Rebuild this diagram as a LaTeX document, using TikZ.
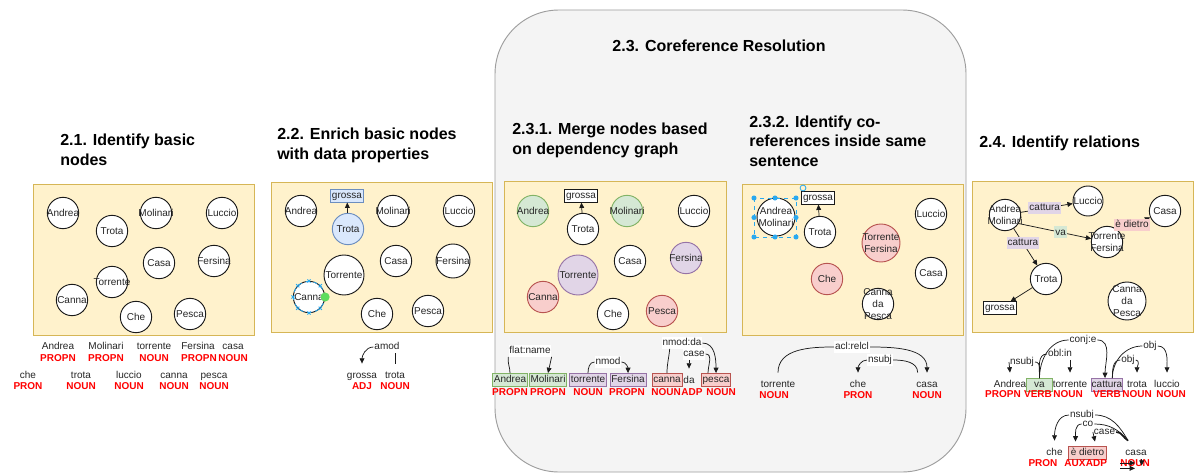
\documentclass[tikz,border=0pt]{standalone}
\usepackage{fontspec}
\setmainfont{Liberation Sans}
\usetikzlibrary{arrows.meta,calc}

\definecolor{yelF}{HTML}{FFF2CC}
\definecolor{yelB}{HTML}{D6B656}
\definecolor{grnF}{HTML}{D5E8D4}
\definecolor{grnB}{HTML}{82B366}
\definecolor{purF}{HTML}{E1D5E7}
\definecolor{purB}{HTML}{9673A6}
\definecolor{redF}{HTML}{F8CECC}
\definecolor{redB}{HTML}{B85450}
\definecolor{bluF}{HTML}{DAE8FC}
\definecolor{bluB}{HTML}{6C8EBF}
\definecolor{grpF}{HTML}{F4F4F4}
\definecolor{grpB}{HTML}{9E9E9E}
\definecolor{txt}{HTML}{262626}
\definecolor{posred}{HTML}{FF0000}
\definecolor{selc}{HTML}{29A9F0}
\definecolor{hotc}{HTML}{5EDC5E}
\definecolor{ink}{HTML}{1A1A1A}

\newcommand\smtxt{\fontsize{7.5}{9}\selectfont}
\newcommand\ttlfont{\fontsize{12}{15}\selectfont\bfseries}

\tikzset{
  ctext/.style={font=\smtxt, text=txt, align=center, inner sep=0pt},
  ent/.style={circle, draw=ink, line width=0.7pt, fill=white, minimum size=23.5pt,
    inner sep=0pt, label={[ctext]center:{#1}}},
  panel/.style={draw=yelB, fill=yelF, line width=0.7pt},
  ttl/.style={font=\ttlfont, text=black, anchor=base west, inner sep=0pt},
  wd/.style={font=\smtxt, text=txt, inner xsep=0.5pt, inner ysep=5.5pt,
    text height=5.6pt, text depth=1.6pt},
  bx/.style={font=\smtxt, text=txt, inner xsep=1pt, inner ysep=1.3pt,
    text height=5.6pt, text depth=1.6pt, line width=0.6pt},
  gbox/.style={bx, draw=grnB, fill=grnF},
  pbox/.style={bx, draw=purB, fill=purF},
  rbox/.style={bx, draw=redB, fill=redF},
  postag/.style={font=\smtxt\bfseries, text=posred, inner sep=0pt},
  rel/.style={font=\smtxt, text=txt, fill=white, inner sep=0.6pt,
    text height=5.6pt, text depth=1.6pt},
  elab/.style={font=\smtxt, text=txt, inner sep=0.8pt, text height=5.6pt, text depth=1.6pt},
  attr/.style={font=\smtxt, text=txt, draw=ink, line width=0.7pt, fill=white,
    inner xsep=0.8pt, inner ysep=1pt, text height=5.6pt, text depth=1.6pt},
  arr/.style={-{Triangle[length=4pt,width=3.6pt]}, line width=0.55pt, draw=ink},
  ln/.style={line width=0.55pt, draw=ink},
}

\begin{document}
\begin{tikzpicture}[x=0.75pt,y=-0.75pt]
\useasboundingbox (0,0) rectangle (1194,474);
\fill[white] (0,0) rectangle (1194,474);

% ---------- coreference group ----------
\draw[draw=grpB, fill=grpF, line width=0.7pt, rounded corners=48pt] (495,10) rectangle (966,472);
\node[ttl, anchor=base] (t23) at (719,51.7) {2.3. Coreference Resolution};

% ---------- 2.1 basic nodes ----------
\node[ttl] (t21a) at (60,145.7) {2.1. Identify basic};
\node[ttl] (t21b) at (60,165.7) {nodes};
\draw[panel] (33,184) rectangle (254,335);
\node[ent=Andrea]   (a1)  at (63,213) {};
\node[ent=Trota]    (tr1) at (112,231) {};
\node[ent=Molinari] (m1)  at (156,213) {};
\node[ent=Luccio]   (l1)  at (222,213) {};
\node[ent=Casa]     (cs1) at (159,263) {};
\node[ent=Fersina]  (f1)  at (214,261) {};
\node[ent=Torrente] (to1) at (112,282) {};
\node[ent=Canna]    (cn1) at (72,300) {};
\node[ent=Che]      (ch1) at (136,317) {};
\node[ent=Pesca]    (p1)  at (190,314) {};

\node[wd] (w1a) at (58,347)  {Andrea};   \node[postag] (q1a) at (58,358)  {PROPN};
\node[wd] (w1b) at (106,347) {Molinari}; \node[postag] (q1b) at (106,358) {PROPN};
\node[wd] (w1c) at (154,347) {torrente}; \node[postag] (q1c) at (154,358) {NOUN};
\node[wd] (w1d) at (198,347) {Fersina};  \node[postag] (q1d) at (199,358) {PROPN};
\node[wd] (w1e) at (233,347) {casa};     \node[postag] (q1e) at (233,358) {NOUN};
\node[wd] (w1f) at (28,376)  {che};      \node[postag] (q1f) at (28,386)  {PRON};
\node[wd] (w1g) at (81,376)  {trota};    \node[postag] (q1g) at (81,386)  {NOUN};
\node[wd] (w1h) at (129,376) {luccio};   \node[postag] (q1h) at (129,386) {NOUN};
\node[wd] (w1i) at (174,376) {canna};    \node[postag] (q1i) at (174,386) {NOUN};
\node[wd] (w1j) at (214,376) {pesca};    \node[postag] (q1j) at (214,386) {NOUN};

% ---------- 2.2 data properties ----------
\node[ttl] (t22a) at (277,139.7) {2.2. Enrich basic nodes};
\node[ttl] (t22b) at (277,159.7) {with data properties};
\draw[panel] (271,182) rectangle (492,332);
\node[ent=Andrea]   (a2)  at (301,211) {};
\node[attr, fill=bluF, draw=bluB] (g2) at (347,196) {grossa};
\node[ent=Trota, fill=bluF, draw=bluB] (tr2) at (348,229) {};
\draw[arr] (tr2) -- (g2);
\node[ent=Molinari] (m2)  at (393,211) {};
\node[ent=Luccio]   (l2)  at (459,211) {};
\node[ent=Casa]     (cs2) at (396,261) {};
\node[ent=Fersina, minimum size=25.5pt] (f2) at (453,261) {};
\node[ent=Torrente, minimum size=30pt] (to2) at (344,275) {};
\node[ent=Canna]    (cn2) at (309,297) {};
\node[ent=Che]      (ch2) at (377,314) {};
\node[ent=Pesca]    (p2)  at (428,311) {};
% selection marks on Canna
\node[circle, draw=selc, dashed, line width=0.6pt, minimum size=23.5pt, inner sep=0pt] (cn2s) at (cn2) {};
\foreach \a in {45,90,135,180,225,270,315}
  \draw[selc, line width=0.6pt] ($(cn2)+(\a:16)$) +(-1.6,-1.6) -- +(1.6,1.6) +(-1.6,1.6) -- +(1.6,-1.6);
\fill[hotc] (cn2.east) circle (3.4pt);

\node[wd] (w2a) at (362,376) {grossa}; \node[postag] (q2a) at (362,386) {ADJ};
\node[wd] (w2b) at (395,376) {trota};  \node[postag] (q2b) at (395,386) {NOUN};
\node[rel] (r2a) at (387,347) {amod};
\draw[ln] (w2b.north) -- (r2a.south -| w2b.north);
\draw[arr] (r2a.west) to[out=180,in=90] (w2a.north);

% ---------- 2.3.1 merge nodes ----------
\node[ttl] (t31a) at (512,134.7) {2.3.1. Merge nodes based};
\node[ttl] (t31b) at (512,154.7) {on dependency graph};
\draw[panel] (504,181) rectangle (726,332);
\node[ent=Andrea, fill=grnF, draw=grnB] (a3) at (533,211) {};
\node[attr] (g3) at (581,196) {grossa};
\node[ent=Trota] (tr3) at (583,229) {};
\draw[arr] (tr3) -- (g3);
\node[ent=Molinari, fill=grnF, draw=grnB] (m3) at (627,211) {};
\node[ent=Luccio] (l3) at (694,211) {};
\node[ent=Casa] (cs3) at (630,261) {};
\node[ent=Fersina, fill=purF, draw=purB] (f3) at (686,258) {};
\node[ent=Torrente, fill=purF, draw=purB, minimum size=30pt] (to3) at (578,275) {};
\node[ent=Canna, fill=redF, draw=redB] (cn3) at (543,297) {};
\node[ent=Che] (ch3) at (613,314) {};
\node[ent=Pesca, fill=redF, draw=redB] (p3) at (662,311) {};

\node[gbox] (k3a) at (510,380) {Andrea};
\node[gbox] (k3b) at (548,380) {Molinari};
\node[pbox] (k3c) at (588,380) {torrente};
\node[pbox] (k3d) at (628,380) {Fersina};
\node[rbox] (k3e) at (667,380) {canna};
\node[wd]   (k3f) at (689,381) {da};
\node[rbox] (k3g) at (716,380) {pesca};
\node[postag] (q3a) at (510,392) {PROPN};
\node[postag] (q3b) at (548,392) {PROPN};
\node[postag] (q3c) at (588,392) {NOUN};
\node[postag] (q3d) at (627,392) {PROPN};
\node[postag] (q3e) at (666,392) {NOUN};
\node[postag] (q3f) at (692,392) {ADP};
\node[postag] (q3g) at (721,392) {NOUN};
\node[rel] (r3a) at (530,351) {flat:name};
\node[rel] (r3b) at (608,362) {nmod};
\node[rel] (r3c) at (682,343) {nmod:da};
\node[rel] (r3d) at (694,354) {case};
\draw[ln] (k3a.north) to[out=90,in=-100] (r3a.south west);
\draw[arr] (r3a.south east) -- (k3b.north);
\draw[ln] (k3c.north) to[out=90,in=180] (r3b.west);
\draw[arr] (r3b.east) to[out=0,in=90] (k3d.north);
\draw[ln] (k3e.north) to[out=90,in=-95] ($(r3c.south west)!0.2!(r3c.south east)$);
\draw[arr] (r3c.east) to[out=0,in=90] (k3g.north);
\draw[ln] ([xshift=-6pt]k3g.north) to[out=90,in=0] (r3d.east);
\draw[arr] (r3d.south -| k3f.north) -- (k3f.north);

% ---------- 2.3.2 co-references ----------
\node[ttl] (t32a) at (749,127.7) {2.3.2. Identify co-};
\node[ttl] (t32b) at (749,146.7) {references inside same};
\node[ttl] (t32c) at (749,166.7) {sentence};
\draw[panel] (742,184) rectangle (963,335);
\node[ent={Andrea\\Molinari}, minimum size=28.5pt] (am5) at (776,217) {};
\node[attr] (g5) at (818,198) {grossa};
\node[ent=Trota] (tr5) at (820,232) {};
\draw[arr] (tr5) -- (g5);
\node[ent={Torrente\\Fersina}, fill=redF, draw=redB, minimum size=28.5pt] (tf5) at (881,243) {};
\node[ent=Luccio] (l5) at (931,214) {};
\node[ent=Casa] (cs5) at (931,273) {};
\node[ent=Che, fill=redF, draw=redB] (ch5) at (827,279) {};
\node[ent={Canna\\da\\Pesca}] (cdp5) at (878,304) {};
% selection frame on Andrea Molinari
\draw[selc, dashed, line width=0.6pt] (754,198) rectangle (796,237);
\foreach \x/\y in {754/198,775/198,796/198,754/217.5,796/217.5,754/237,775/237,796/237}
  \fill[selc] (\x,\y) circle (1.9pt);
\draw[selc, line width=0.6pt] (803,188) circle (2.2pt);

\node[wd] (k5a) at (778,385) {torrente};
\node[wd] (k5b) at (858,385) {che};
\node[wd] (k5c) at (927,385) {casa};
\node[postag] (q5a) at (774,395) {NOUN};
\node[postag] (q5b) at (858,395) {PRON};
\node[postag] (q5c) at (927,395) {NOUN};
\node[rel] (r5a) at (852,347) {acl:relcl};
\node[rel] (r5b) at (880,360) {nsubj};
\draw[ln] (k5a.north) to[out=90,in=180] (r5a.west);
\draw[arr] (r5a.east) to[out=0,in=90] (k5c.north);
\draw[ln] ([xshift=-7pt]k5c.north) to[out=90,in=0] (r5b.east);
\draw[arr] (r5b.west) to[out=180,in=90] (k5b.north);

% ---------- 2.4 relations ----------
\node[ttl] (t24) at (979,147.7) {2.4. Identify relations};
\draw[panel] (972,181) rectangle (1193,332);
\node[ent={Andrea\\Molinari}] (am4) at (1005,215) {};
\node[ent=Luccio, minimum size=22.5pt] (l4) at (1088,201) {};
\node[ent=Casa] (cs4) at (1165,211) {};
\node[ent={Torrente\\Fersina}] (tf4) at (1107,242) {};
\node[ent=Trota] (tr4) at (1046,279) {};
\node[attr] (g4) at (1000,308) {grossa};
\node[ent={Canna\\da\\Pesca}, minimum size=28.5pt] (cdp4) at (1127,301) {};
\draw[arr] (am4) -- node[elab, fill=purF, pos=0.46] (e4a) {cattura} (l4);
\draw[arr] (am4.-32) -- node[elab, fill=grnF, pos=0.58] (e4b) {va} (tf4);
\draw[arr] (am4) -- node[elab, fill=purF, pos=0.39] (e4c) {cattura} (tr4);
\draw[arr] (tf4.43) -- node[elab, fill=redF, pos=0.42] (e4d) {è dietro} (cs4);
\draw[arr] (tr4) -- (g4);

% first sentence
\node[wd]   (k4a) at (1010,385) {Andrea};
\node[gbox, minimum width=20pt] (k4b) at (1039.5,385) {va};
\node[wd]   (k4c) at (1070,385) {torrente};
\node[pbox, inner xsep=0pt] (k4d) at (1107,385) {cattura};
\node[wd]   (k4e) at (1137,385) {trota};
\node[wd]   (k4f) at (1167,385) {luccio};
\node[postag] (q4a) at (1003,394) {PROPN};
\node[postag] (q4b) at (1038,394) {VERB};
\node[postag] (q4c) at (1068,394) {NOUN};
\node[postag] (q4d) at (1107,394) {VERB};
\node[postag] (q4e) at (1137,394) {NOUN};
\node[postag] (q4f) at (1171,394) {NOUN};
\node[rel] (r4a) at (1083,340) {conj:e};
\node[rel] (r4b) at (1022,362) {nsubj};
\node[rel] (r4c) at (1060,354) {obl:in};
\node[rel] (r4d) at (1150,346) {obj};
\node[rel] (r4e) at (1128,360) {obj};
\draw[ln] (k4b.north) to[out=90,in=180] (r4a.west);
\draw[arr] (r4a.east) to[out=0,in=90] ([xshift=-1.5pt]k4d.north);
\draw[ln] (k4b.north) to[out=95,in=0] (r4b.east);
\draw[arr] (r4b.west) -- (k4a.north);
\draw[ln] (k4b.north) to[out=90,in=180] (r4c.west);
\draw[arr] (r4c.south -| k4c.north) -- (k4c.north);
\draw[ln] ([xshift=4pt]k4d.north) to[out=90,in=180] (r4d.west);
\draw[arr] (r4d.east) to[out=0,in=90] (k4f.north);
\draw[ln] ([xshift=4pt]k4d.north) to[out=90,in=180] (r4e.west);
\draw[arr] (r4e.east) to[out=0,in=90] (k4e.north);

% second sentence
\node[wd]   (k6a) at (1054.5,453) {che};
\node[rbox, minimum width=29pt] (k6b) at (1087.5,452.5) {è dietro};
\node[wd]   (k6c) at (1136,453) {casa};
\node[postag] (q6a) at (1043,463) {PRON};
\node[postag] (q6b) at (1075,463) {AUX};
\node[postag] (q6c) at (1096.5,463) {ADP};
\node[postag] (q6d) at (1135,463) {NOUN};
\node[rel] (r6a) at (1082,415) {nsubj};
\node[rel] (r6b) at (1088,424) {co};
\node[rel] (r6c) at (1104.5,432) {case};
\coordinate (s6) at ([xshift=-6pt]k6c.north);
\draw[ln] (s6) to[out=120,in=0] (r6a.east);
\draw[ln] (s6) to[out=130,in=0] (r6b.east);
\draw[ln, line width=1.2pt] (s6) to[out=150,in=0] (r6c.east);
\draw[arr] (r6a.west) to[out=180,in=90] (k6a.north);
\draw[arr] (r6b.west) to[out=180,in=90] ([xshift=-9pt,yshift=3pt]k6b.north);
\draw[arr] (r6c.west) -- ([xshift=5.6pt,yshift=3pt]k6b.north);
\draw[arr] (q6d.west) -- (q6d.center);
\draw[arr] ([yshift=-4pt]q6d.west) -- ([yshift=-4pt]q6d.center);
\draw[arr] ([xshift=5pt,yshift=3pt]q6d.center) -- ([xshift=5pt,yshift=-2pt]q6d.center);
\end{tikzpicture}
\end{document}
